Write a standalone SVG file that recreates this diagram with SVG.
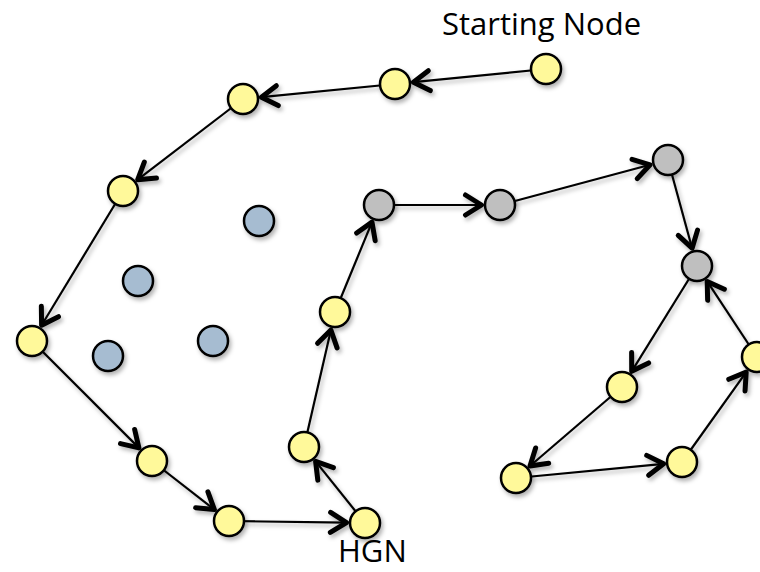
<svg xmlns="http://www.w3.org/2000/svg" width="760" height="572" viewBox="0 0 760 572">
  <style>
    .edge { stroke: #000; stroke-width: 2.2; fill: none; marker-end: url(#arrow); filter: url(#shadow); }
    .node circle { stroke: #000; stroke-width: 2.5; filter: url(#shadow); }
    .yellow circle { fill: #FFF99A; }
    .blue circle { fill: #A6BCD1; }
    .gray circle { fill: #BFBFBF; }
    .label { font-family: "Open Sans", "Liberation Sans", sans-serif; font-size: 31px; fill: #000; }
  </style>
  <defs>
    <filter id="shadow" filterUnits="userSpaceOnUse" x="0" y="0" width="760" height="572">
      <feDropShadow dx="2" dy="3" stdDeviation="2" flood-color="#000" flood-opacity="0.3"/>
    </filter>
    <marker id="arrow" viewBox="-22 -14 28 28" refX="0" refY="0" markerWidth="28" markerHeight="28" markerUnits="userSpaceOnUse" orient="auto" overflow="visible">
      <path d="M-16,-10 L0,0 L-16,10" fill="none" stroke="#000" stroke-width="5" stroke-linecap="round" stroke-linejoin="round"/>
    </marker>
  </defs>
  <rect width="760" height="572" fill="#fff"/>

  <g id="connectors">
    <line class="edge" x1="546" y1="69" x2="413.4" y2="82.2"/>
    <line class="edge" x1="395" y1="84" x2="261.4" y2="97.2"/>
    <line class="edge" x1="243" y1="99" x2="137.7" y2="179.7"/>
    <line class="edge" x1="123" y1="191" x2="41.6" y2="325.2"/>
    <line class="edge" x1="32" y1="341" x2="138.9" y2="447.9"/>
    <line class="edge" x1="152" y1="461" x2="214.4" y2="509.6"/>
    <line class="edge" x1="229" y1="521" x2="346.5" y2="522.7"/>
    <line class="edge" x1="365" y1="523" x2="315.6" y2="461.4"/>
    <line class="edge" x1="304" y1="447" x2="330.9" y2="330.0"/>
    <line class="edge" x1="335" y1="312" x2="372.0" y2="222.1"/>
    <line class="edge" x1="379" y1="205" x2="481.5" y2="205"/>
    <line class="edge" x1="500" y1="205" x2="650.1" y2="164.8"/>
    <line class="edge" x1="668" y1="160" x2="692.1" y2="248.2"/>
    <line class="edge" x1="697" y1="266" x2="631.7" y2="371.3"/>
    <line class="edge" x1="622" y1="387" x2="530.0" y2="466.0"/>
    <line class="edge" x1="516" y1="478" x2="663.6" y2="463.8"/>
    <line class="edge" x1="682" y1="462" x2="746.2" y2="372.1"/>
    <line class="edge" x1="757" y1="357" x2="707.2" y2="281.4"/>
  </g>

  <g id="n-start" class="node yellow"><circle cx="546" cy="69" r="15"/></g>
  <g id="n2" class="node yellow"><circle cx="395" cy="84" r="15"/></g>
  <g id="n3" class="node yellow"><circle cx="243" cy="99" r="15"/></g>
  <g id="n4" class="node yellow"><circle cx="123" cy="191" r="15"/></g>
  <g id="n5" class="node yellow"><circle cx="32" cy="341" r="15"/></g>
  <g id="n6" class="node yellow"><circle cx="152" cy="461" r="15"/></g>
  <g id="n7" class="node yellow"><circle cx="229" cy="521" r="15"/></g>
  <g id="n-hgn" class="node yellow"><circle cx="365" cy="523" r="15"/></g>
  <g id="n9" class="node yellow"><circle cx="304" cy="447" r="15"/></g>
  <g id="n10" class="node yellow"><circle cx="335" cy="312" r="15"/></g>
  <g id="g1" class="node gray"><circle cx="379" cy="205" r="15"/></g>
  <g id="g2" class="node gray"><circle cx="500" cy="205" r="15"/></g>
  <g id="g3" class="node gray"><circle cx="668" cy="160" r="15"/></g>
  <g id="g4" class="node gray"><circle cx="697" cy="266" r="15"/></g>
  <g id="n15" class="node yellow"><circle cx="622" cy="387" r="15"/></g>
  <g id="n16" class="node yellow"><circle cx="516" cy="478" r="15"/></g>
  <g id="n17" class="node yellow"><circle cx="682" cy="462" r="15"/></g>
  <g id="n18" class="node yellow"><circle cx="757" cy="357" r="15"/></g>
  <g id="b1" class="node blue"><circle cx="259" cy="221" r="15"/></g>
  <g id="b2" class="node blue"><circle cx="138" cy="281" r="15"/></g>
  <g id="b3" class="node blue"><circle cx="108" cy="356" r="15"/></g>
  <g id="b4" class="node blue"><circle cx="213" cy="341" r="15"/></g>

  <g id="labels">
    <text class="label" x="442" y="35">Starting Node</text>
    <text class="label" x="338" y="562">HGN</text>
  </g>
</svg>
